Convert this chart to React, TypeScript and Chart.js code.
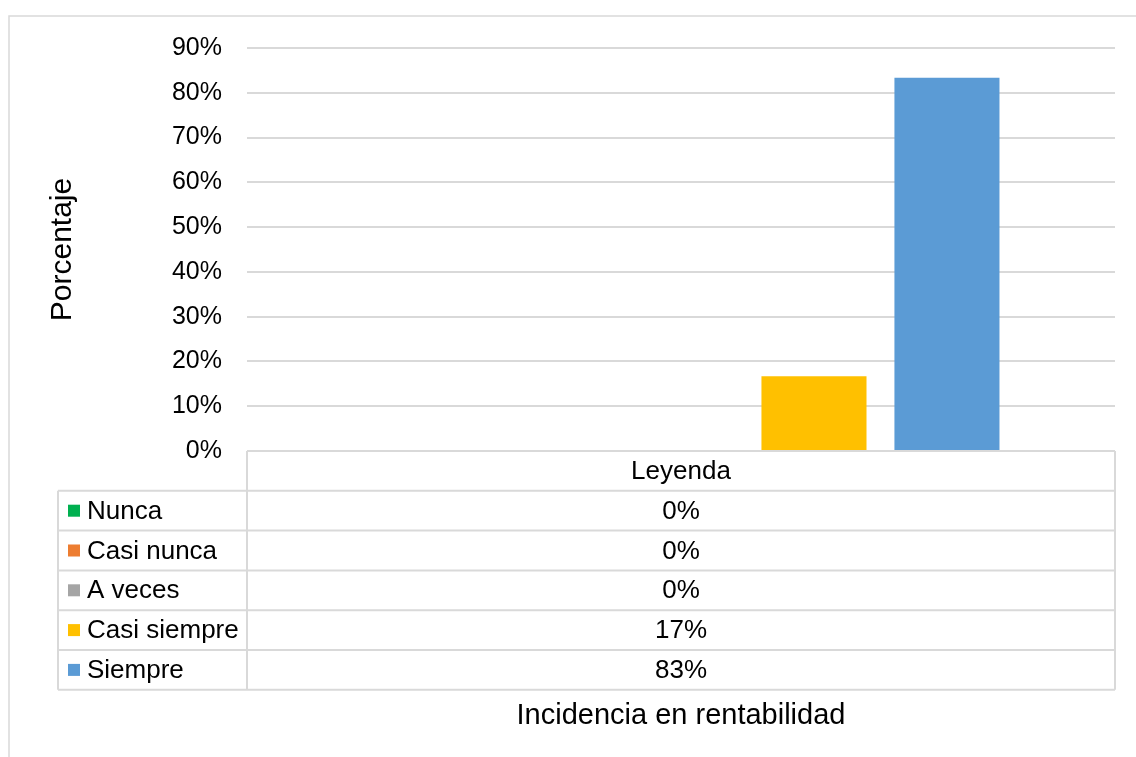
import React, { useEffect, useRef } from 'react';
import { Chart, registerables } from 'chart.js';

Chart.register(...registerables);

const categories = ['Leyenda'];
const seriesNames = ['Nunca', 'Casi nunca', 'A veces', 'Casi siempre', 'Siempre'];
const seriesValues = [0, 0, 0, 16.67, 83.33];
const seriesColors = ['#00B050', '#ED7D31', '#A5A5A5', '#FFC000', '#5B9BD5'];
const yMin = 0;
const yMax = 90;
const yStep = 10;
const yAxisTitle = 'Porcentaje';
const xAxisTitle = 'Incidencia en rentabilidad';

const FONT = '"Liberation Sans", Arial, sans-serif';
const LINE = '#D9D9D9';
const TEXT = '#000000';

const tablePlugin = {
  id: 'dataTable',
  afterDraw(chart: any) {
    const ctx = chart.ctx as CanvasRenderingContext2D;
    const { left, right, bottom } = chart.chartArea;
    const rowH = 39.8;
    const labelLeft = 58;
    const nRows = seriesNames.length;
    const tableBottom = bottom + rowH * (nRows + 1);
    ctx.save();

    // outer chart frame
    ctx.strokeStyle = LINE;
    ctx.lineWidth = 1.5;
    ctx.beginPath();
    ctx.moveTo(9, chart.height + 5);
    ctx.lineTo(9, 16);
    ctx.lineTo(chart.width + 5, 16);
    ctx.stroke();

    // table lines
    ctx.lineWidth = 2;
    ctx.beginPath();
    ctx.moveTo(left, bottom);
    ctx.lineTo(right, bottom);
    for (let i = 1; i <= nRows + 1; i++) {
      const y = bottom + rowH * i;
      ctx.moveTo(labelLeft, y);
      ctx.lineTo(right, y);
    }
    ctx.moveTo(left, bottom);
    ctx.lineTo(left, tableBottom);
    ctx.moveTo(right, bottom);
    ctx.lineTo(right, tableBottom);
    ctx.moveTo(labelLeft, bottom + rowH);
    ctx.lineTo(labelLeft, tableBottom);
    ctx.stroke();

    // text
    ctx.fillStyle = TEXT;
    ctx.font = `26px ${FONT}`;
    ctx.textBaseline = 'alphabetic';
    const cx = (left + right) / 2;
    ctx.textAlign = 'center';
    ctx.fillText(categories[0], cx, bottom + rowH / 2 + 8);
    for (let i = 0; i < nRows; i++) {
      const cy = bottom + rowH * (i + 1) + rowH / 2;
      ctx.fillStyle = seriesColors[i];
      ctx.fillRect(68, cy - 6, 12, 12);
      ctx.fillStyle = TEXT;
      ctx.textAlign = 'left';
      ctx.fillText(seriesNames[i], 87, cy + 8);
      ctx.textAlign = 'center';
      ctx.fillText(`${Math.round(seriesValues[i])}%`, cx, cy + 8);
    }

    // x axis title
    ctx.font = `29px ${FONT}`;
    ctx.textAlign = 'center';
    ctx.fillText(xAxisTitle, cx, 724);
    ctx.restore();
  },
};

export default function App() {
  const ref = useRef<HTMLCanvasElement | null>(null);
  useEffect(() => {
    if (!ref.current) return;
    const chart = new Chart(ref.current, {
      type: 'bar',
      data: {
        labels: categories,
        datasets: seriesNames.map((name, i) => ({
          label: name,
          data: [seriesValues[i]],
          backgroundColor: seriesColors[i],
          borderWidth: 0,
          categoryPercentage: 0.766,
          barPercentage: 0.79,
        })),
      },
      options: {
        animation: false,
        responsive: false,
        devicePixelRatio: 1,
        layout: { padding: { left: 0, top: 48, right: 21, bottom: 306 } },
        plugins: { legend: { display: false }, tooltip: { enabled: false } },
        scales: {
          x: { display: false },
          y: {
            min: yMin,
            max: yMax,
            afterFit(scale: any) {
              scale.width = 247;
            },
            ticks: {
              stepSize: yStep,
              padding: 25,
              color: TEXT,
              font: { family: FONT, size: 25 },
              callback: (v: any) => `${v}%`,
            },
            grid: { color: LINE, lineWidth: 2, drawTicks: false },
            border: { display: false },
            title: {
              display: true,
              text: yAxisTitle,
              color: TEXT,
              font: { family: FONT, size: 30 },
              padding: { top: 45, bottom: 0 },
            },
          },
        },
      },
      plugins: [tablePlugin],
    });
    return () => chart.destroy();
  }, []);
  return (
    <div style={{ position: 'absolute', left: 0, top: 0, width: 1136, height: 757, background: '#fff' }}>
      <canvas ref={ref} width={1136} height={757} />
    </div>
  );
}
